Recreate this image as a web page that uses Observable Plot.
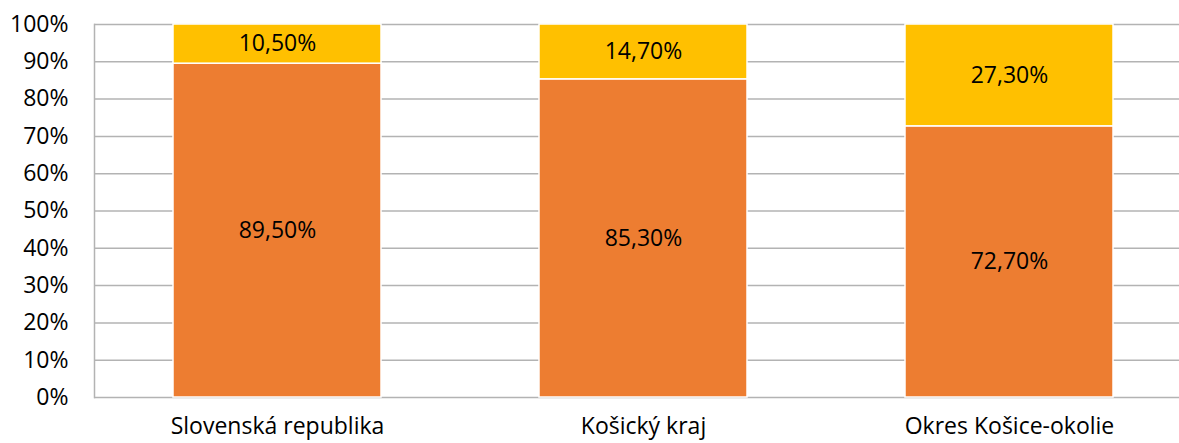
<!DOCTYPE html>
<html>
<head>
<meta charset="utf-8">
<script src="https://cdn.jsdelivr.net/npm/d3@7"></script>
<script src="https://cdn.jsdelivr.net/npm/@observablehq/plot@0.6"></script>
<style>
  html, body { margin: 0; padding: 0; background: #fff; overflow: hidden; width: 1179px; }
  #chart svg { display: block; max-width: none !important; }
</style>
</head>
<body>
<div id="chart"></div>
<script>
const categories = ["Slovenská republika", "Košický kraj", "Okres Košice-okolie"];
const seriesNames = ["majority", "minority"];
const majorityValues = [89.5, 85.3, 72.7];
const minorityValues = [10.5, 14.7, 27.3];
const yTicks = [0, 10, 20, 30, 40, 50, 60, 70, 80, 90, 100];
const colors = ["#ED7D31", "#FFC000"];

const fmt = v => v.toFixed(2).replace(".", ",") + "%";

const data = [];
categories.forEach((c, i) => data.push({cat: c, series: seriesNames[0], value: majorityValues[i]}));
categories.forEach((c, i) => data.push({cat: c, series: seriesNames[1], value: minorityValues[i]}));

const font = "'Open Sans', sans-serif";
const fs = 23;

const plot = Plot.plot({
  width: 1194,
  height: 443,
  marginLeft: 94,
  marginRight: 2,
  marginTop: 24,
  marginBottom: 46,
  style: {fontFamily: font, fontSize: fs + "px", color: "#000", background: "#fff", maxWidth: "none"},
  x: {domain: categories, paddingInner: 0.432, paddingOuter: 0.216, label: null},
  y: {domain: [0, 100], label: null},
  color: {domain: seriesNames, range: colors},
  marks: [
    Plot.ruleY(yTicks, {stroke: "#b3b3b3", strokeWidth: 1.5}),
    Plot.frame({anchor: "left", stroke: "#b3b3b3", strokeWidth: 1.5}),
    Plot.barY(data, Plot.stackY({x: "cat", y: "value", z: "series", fill: "series", stroke: "#fff", strokeWidth: 1.5})),
    Plot.text(data, Plot.stackY({x: "cat", y: "value", z: "series", text: d => fmt(d.value), fill: "#000", fontSize: fs})),
    Plot.axisY({ticks: yTicks, tickSize: 0, tickPadding: 26, tickFormat: d => d + "%", label: null, fontSize: fs}),
    Plot.axisX({tickSize: 0, tickPadding: 20, label: null, fontSize: fs})
  ]
});
document.getElementById("chart").appendChild(plot);
</script>
</body>
</html>
